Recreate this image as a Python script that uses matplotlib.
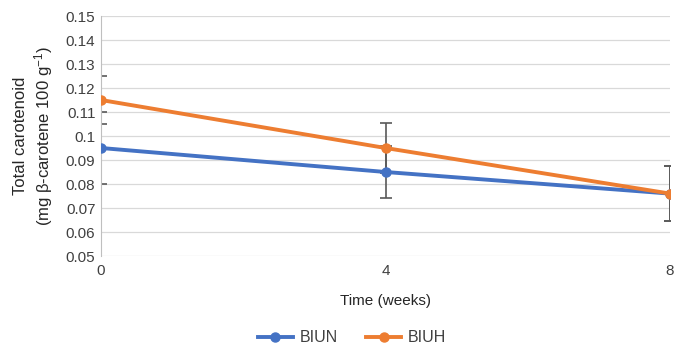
import matplotlib
matplotlib.use("Agg")
import matplotlib.pyplot as plt
from matplotlib.ticker import FuncFormatter

plt.rcParams['font.family'] = ['Liberation Sans Narrow', 'Liberation Sans', 'DejaVu Sans']
plt.rcParams['mathtext.default'] = 'regular'

weeks = [0, 4, 8]
biun = [0.095, 0.085, 0.076]
biun_err = [0.015, 0.011, 0.0115]
biuh = [0.115, 0.095, 0.076]
biuh_err = [0.010, 0.0105, 0.0115]

blue = "#4472C4"
orange = "#ED7D31"
grey = "#595959"

fig = plt.figure(figsize=(6.84, 3.54), dpi=100)
ax = fig.add_axes([101/684, 1 - 256/354, (670-101)/684, (256-16)/354])

ax.errorbar(weeks, biun, yerr=biun_err, fmt='none', ecolor=grey, elinewidth=1.2,
            capsize=4, capthick=1.2, zorder=2)
ax.errorbar(weeks, biuh, yerr=biuh_err, fmt='none', ecolor=grey, elinewidth=1.2,
            capsize=4, capthick=1.2, zorder=2)
ax.plot(weeks, biun, color=blue, lw=2.8, marker='o', ms=6.5, label='BIUN', zorder=3)
ax.plot(weeks, biuh, color=orange, lw=2.8, marker='o', ms=6.5, label='BIUH', zorder=4)

ax.set_xlim(0, 8)
ax.set_ylim(0.05, 0.15)
ax.set_xticks(weeks)
ax.set_yticks([0.05 + 0.01 * i for i in range(11)])
ax.yaxis.set_major_formatter(FuncFormatter(lambda v, p: ('%.2f' % v).rstrip('0')))
ax.grid(axis='y', color='#d9d9d9', lw=0.9)
ax.set_axisbelow(True)
for s in ['top', 'right', 'bottom']:
    ax.spines[s].set_visible(False)
ax.spines['left'].set_color('#bfbfbf')
ax.tick_params(axis='both', length=0, labelsize=11, colors='#404040', pad=6)
ax.tick_params(axis='y', pad=4)

ax.set_xlabel('Time (weeks)', fontsize=11, color='#262626', labelpad=11)
ax.set_ylabel('Total carotenoid\n(mg β-carotene 100 g$^{-1}$)', fontsize=12,
              color='#262626', labelpad=8)

fig.legend(loc='center', bbox_to_anchor=(352/684, 1 - 338/354), ncol=2, frameon=False,
           fontsize=11.5, handlelength=2.2, handletextpad=0.4, columnspacing=1.8,
           labelcolor='#404040')

fig.savefig('out.png', dpi=100)
